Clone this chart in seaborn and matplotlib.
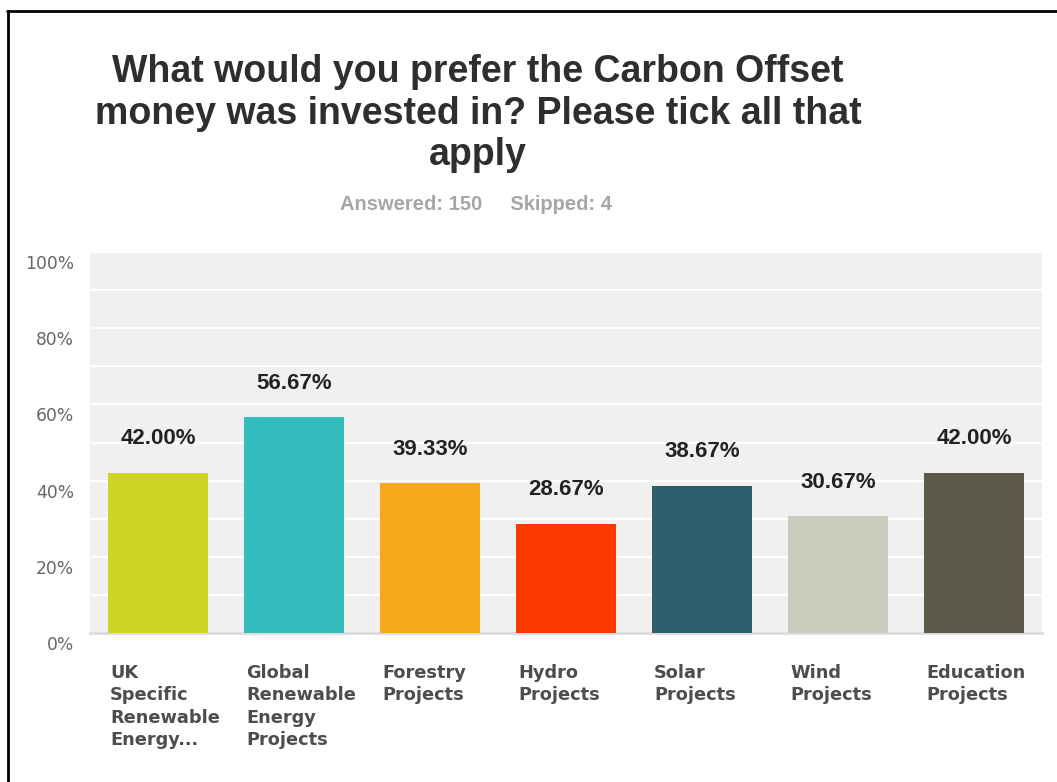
import matplotlib
matplotlib.use("Agg")
import matplotlib.pyplot as plt
import matplotlib.transforms as mtransforms
from matplotlib.lines import Line2D
import seaborn as sns

# Survey results: share of respondents choosing each option
categories = [
    "UK\nSpecific\nRenewable\nEnergy...",
    "Global\nRenewable\nEnergy\nProjects",
    "Forestry\nProjects",
    "Hydro\nProjects",
    "Solar\nProjects",
    "Wind\nProjects",
    "Education\nProjects",
]
values = [42.00, 56.67, 39.33, 28.67, 38.67, 30.67, 42.00]
bar_colors = ["#cdd423", "#33bdbd", "#f5a81c", "#fe3a00", "#2e5e6c", "#cbcbbd", "#5b5a4a"]
y_ticks = [0, 20, 40, 60, 80, 100]
y_tick_labels = ["0%", "20%", "40%", "60%", "80%", "100%"]

title = "What would you prefer the Carbon Offset\nmoney was invested in? Please tick all that\napply"
subtitle = "Answered: 150     Skipped: 4"

sns.set_theme(style="white")
plt.rcParams["font.family"] = ["DejaVu Sans"]

W, H = 1057, 782
fig = plt.figure(figsize=(W / 100, H / 100), dpi=100)
fig.patch.set_facecolor("white")

# plot area in pixel terms
x0, x1, ytop, ybot = 90, 1042, 252, 633
ax = fig.add_axes([x0 / W, (H - ybot) / H, (x1 - x0) / W, (ybot - ytop) / H])
ax.set_facecolor("#f0f0f0")

bar_w = 100 / 136
sns.barplot(x=list(range(len(values))), y=values, hue=list(range(len(values))),
            palette=bar_colors, width=bar_w, saturation=1, legend=False,
            ax=ax, zorder=3, edgecolor="none")
ax.set_xlim(-0.5, len(values) - 0.5)
ax.set_ylim(0, 100)

# white horizontal grid every 10%
ax.set_yticks(list(range(0, 101, 10)), minor=True)
ax.yaxis.grid(True, which="minor", color="white", linewidth=1.6, zorder=1)
ax.yaxis.grid(True, which="major", color="white", linewidth=1.6, zorder=1)
ax.set_axisbelow(True)

for side in ["top", "right", "left"]:
    ax.spines[side].set_visible(False)
ax.spines["bottom"].set_color("#dcdcdc")
ax.spines["bottom"].set_linewidth(2)

# y tick labels sit a little below their gridline
ax.set_yticks(y_ticks)
ax.set_yticklabels(y_tick_labels, fontsize=12.3, color="#666666", family="DejaVu Sans")
ax.tick_params(axis="y", length=0, pad=11.5, which="both")
ydown = mtransforms.ScaledTranslation(0, -10 / 100, fig.dpi_scale_trans)
for lab in ax.get_yticklabels():
    lab.set_transform(lab.get_transform() + ydown)

# category labels, left aligned with each bar's left edge
ax.set_xticks(list(range(len(categories))))
ax.set_xticklabels(categories, fontsize=12.75, color="#4d4d4d", fontweight="bold",
                   family="DejaVu Sans", linespacing=1.32)
ax.tick_params(axis="x", length=0, pad=22)
xleft = mtransforms.ScaledTranslation(-48 / 100, 0, fig.dpi_scale_trans)
for lab in ax.get_xticklabels():
    lab.set_horizontalalignment("left")
    lab.set_multialignment("left")
    lab.set_transform(lab.get_transform() + xleft)
ax.set_xlabel("")
ax.set_ylabel("")

# value labels above bars
for i, v in enumerate(values):
    ax.annotate(f"{v:.2f}%", xy=(i, v), xytext=(0, 34 * 0.72), textcoords="offset points",
                ha="center", va="center", fontsize=16, fontweight="bold",
                color="#222222", family="Liberation Sans")

# headline and response counts
fig.text(478 / W, 1 - 54 / H, title, ha="center", va="top", fontsize=27,
         fontweight="bold", color="#2e2e2e", family="Liberation Sans",
         linespacing=1.2)
fig.text(476 / W, 1 - 204 / H, subtitle, ha="center", va="center", fontsize=14.5,
         fontweight="bold", color="#a6a6a6", family="Liberation Sans")

# frame along the top and left edges
fig.add_artist(Line2D([7 / W, 1], [1 - 11 / H, 1 - 11 / H], color="black", linewidth=2,
                      transform=fig.transFigure))
fig.add_artist(Line2D([8 / W, 8 / W], [0, 1 - 11 / H], color="black", linewidth=2,
                      transform=fig.transFigure))

fig.savefig("out.png", dpi=100, facecolor="white")
